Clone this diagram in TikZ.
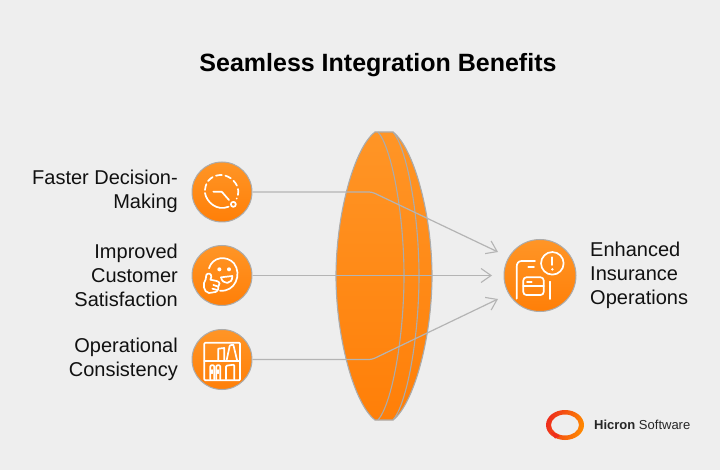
\documentclass[tikz,border=0pt]{standalone}
\usepackage{fontspec}
\setmainfont{Liberation Sans}
\usetikzlibrary{arrows.meta}
\definecolor{bg}{HTML}{EEEEEE}
\definecolor{ortop}{HTML}{FF9526}
\definecolor{orbot}{HTML}{FF7F08}
\definecolor{edgegrey}{HTML}{ABABAB}
\definecolor{linegrey}{HTML}{B4B4B4}
\definecolor{txt}{HTML}{111111}
\definecolor{logored}{HTML}{EE2E1C}
\definecolor{logoor}{HTML}{FF8A00}
\tikzset{
  disc/.style={circle,draw=edgegrey,line width=1pt,top color=ortop,bottom color=orbot,inner sep=0pt,minimum size=#1},
  lens/.style={top color=ortop,bottom color=orbot,draw=edgegrey,line width=1.1pt},
  lensline/.style={draw=edgegrey,line width=1.1pt},
  conn/.style={draw=linegrey,line width=1.2pt,rounded corners=3pt},
  tipconn/.style={conn,-{Straight Barb[length=10pt,width=14pt,line width=1.1pt]}},
  lbl/.style={font=\fontsize{20}{24}\selectfont,text=txt,inner sep=0pt},
  icon/.style={draw=white,line width=1.7pt,line cap=round,line join=round},
  zoomframe/.style={x=0.33333pt,y=-0.33333pt}
}
\begin{document}
\begin{tikzpicture}[x=1pt,y=-1pt]
\useasboundingbox (0,0) rectangle (720,470);
\fill[bg] (0,0) rectangle (720,470);

\node[font=\bfseries\fontsize{25}{30}\selectfont,text=black,inner sep=0pt] (title) at (378,65.5) {Seamless Integration Benefits};

% lens
\path[lens] (375,132) .. controls (354,148) and (336,215) .. (336,276)
  .. controls (336,337) and (354,404) .. (375,420) -- (393,420)
  .. controls (414,404) and (432,337) .. (432,276)
  .. controls (432,215) and (414,148) .. (393,132) -- cycle;
\draw[lensline] (378,132) .. controls (392,148) and (404,215) .. (404,276)
  .. controls (404,337) and (392,404) .. (378,420);
\draw[lensline] (393,132) .. controls (407,148) and (419,215) .. (419,276)
  .. controls (419,337) and (407,404) .. (393,420);

% discs
\node[disc=60pt] (a) at (222,192) {};
\node[disc=60pt] (b) at (222,275.5) {};
\node[disc=60pt] (c) at (222,359.5) {};
\node[disc=72pt] (t) at (540,275.5) {};

% connector ends
\coordinate (ka) at (372,192);
\coordinate (kc) at (372,359.5);
\coordinate (ta) at (498,252);
\coordinate (tb) at (492,275.5);
\coordinate (tc) at (498,299);
\draw[tipconn] (a.east) -- (ka) -- (ta);
\draw[tipconn] (b.east) -- (tb);
\draw[tipconn] (c.east) -- (kc) -- (tc);

% labels
\node[lbl,anchor=east,align=right] (la) at (178,191.5) {Faster Decision-\\Making};
\node[lbl,anchor=east,align=right] (lb) at (178,275.5) {Improved\\Customer\\Satisfaction};
\node[lbl,anchor=east,align=right] (lc) at (178,359.5) {Operational\\Consistency};
\node[lbl,anchor=west,align=left] (lt) at (590,275.5) {Enhanced\\Insurance\\Operations};

% icon a
\begin{scope}[shift={(185,150)},zoomframe]
  \draw[icon] (60,129) .. controls (64,155) and (95,185) .. (131,170);
  \draw[icon,dash pattern=on 6pt off 3.6pt] (60,120) .. controls (62,90) and (85,74) .. (110,75)
     .. controls (135,76) and (160,100) .. (160,125) .. controls (160,132) and (158,140) .. (155,146);
  \draw[icon] (85,125) -- (110,125) -- (132,150);
  \draw[icon] (145,163) circle[radius=2.5pt];
\end{scope}

% icon b
\begin{scope}[shift={(185,235)},zoomframe]
  \draw[icon] (72,100) .. controls (82,65) and (125,60) .. (147,85)
     .. controls (172,118) and (150,172) .. (105,167);
  \fill[white] (103,103) circle[radius=2pt] (132,103) circle[radius=2pt];
  \draw[icon] (108,127) -- (142,123) .. controls (143,150) and (112,150) .. cycle;
  \draw[icon] (62,133) -- (64,120) .. controls (68,112) and (80,115) .. (79,126)
     -- (76,134) -- (95,138) .. controls (106,140) and (105,150) .. (100,155)
     .. controls (102,165) and (95,172) .. (85,172) -- (72,174)
     .. controls (55,172) and (52,145) .. (62,133) -- cycle;
  \draw[icon] (85,150) -- (100,155) (82,161) -- (97,165);
\end{scope}

% icon c
\begin{scope}[shift={(185,320)},zoomframe]
  \draw[icon,rounded corners=1pt] (58,68) rectangle (165,181);
  \draw[icon] (58,123) -- (165,123);
  \draw[icon] (100,122) -- (100,86) -- (118,84) -- (118,122);
  \draw[icon] (125,120) -- (134,78);
  \draw[icon] (135,76) -- (145,74) -- (156,120);
  \draw[icon,rounded corners=1pt] (76,178) -- (76,136) -- (88,136) -- (88,178);
  \draw[icon,rounded corners=1pt] (94,178) -- (94,136) -- (106,136) -- (106,178);
  \draw[icon] (81,150) -- (81,160) (100,150) -- (100,160);
  \draw[icon,rounded corners=1pt] (123,178) -- (123,137) -- (148,134) -- (148,178);
\end{scope}

% icon t
\begin{scope}[shift={(480,230)},zoomframe]
  \draw[icon] (217,100) circle[radius=11.3pt];
  \draw[icon] (217,82) -- (217,105);
  \fill[white] (217,118) circle[radius=1.4pt];
  \draw[icon] (110,206) -- (110,112) .. controls (110,100) and (115,93) .. (125,93) -- (165,93);
  \draw[icon] (145,112) -- (162,112);
  \draw[icon,rounded corners=3pt] (130,142) rectangle (191,195);
  \draw[icon] (130,167) -- (191,167);
  \draw[icon] (141,156) -- (155,156);
  \draw[icon] (209,155) -- (209,207);
\end{scope}

% logo
\shade[even odd rule,left color=logored,right color=logoor,shading angle=75]
  (565,425) ellipse[x radius=19pt,y radius=15pt]
  (565,425) ellipse[x radius=14pt,y radius=10.5pt];
\fill[logored] (551,432) -- (555,438.5) -- (560,436) -- (555,433) -- cycle;
\node[anchor=west,inner sep=0pt,font=\fontsize{13}{15}\selectfont,text=black!85] (logo) at (594,425) {\textbf{Hicron} Software};
\end{tikzpicture}
\end{document}
